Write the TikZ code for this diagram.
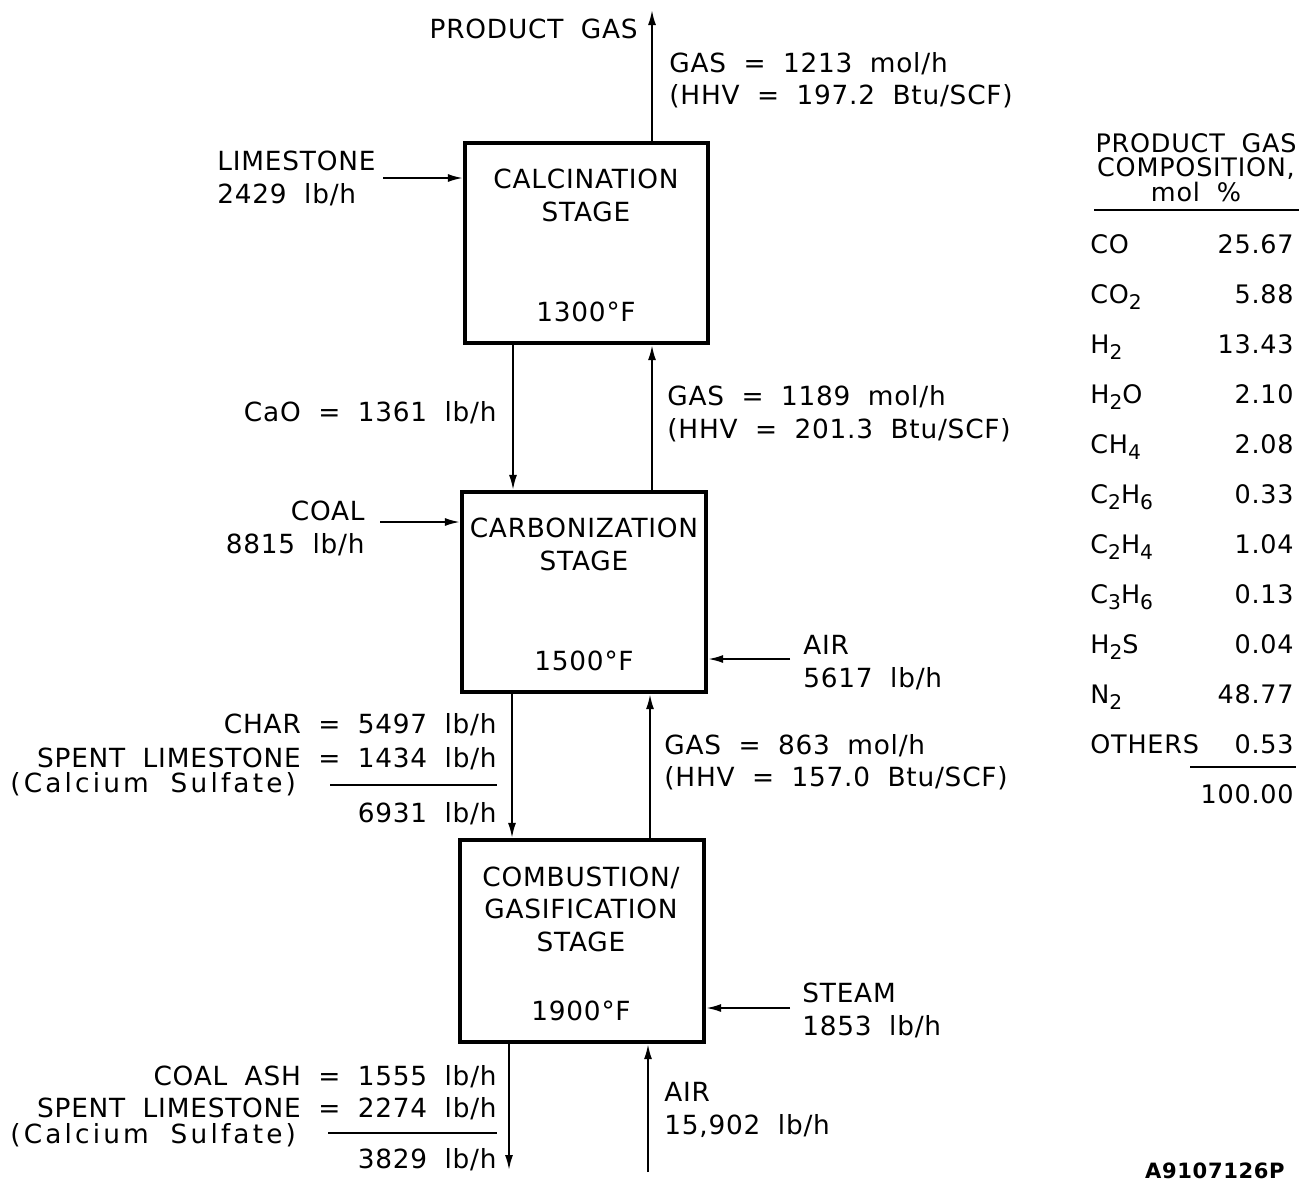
\documentclass[tikz,border=0pt]{standalone}
\usepackage{fontspec}
\setmainfont{DejaVu Sans}[LetterSpace=3, WordSpace=1.9]
\usetikzlibrary{arrows.meta}
\newcommand{\chsub}[1]{\raisebox{-0.45ex}{\fontsize{11.5}{12}\selectfont #1}}
\begin{document}
\begin{tikzpicture}[x=0.02cm,y=-0.02cm,
  txt/.style={inner sep=0pt, font=\fontsize{15}{18}\selectfont},
  tbl/.style={inner sep=0pt, font=\fontsize{14.5}{17}\selectfont},
  stagebox/.style={draw, line width=2.4pt, minimum width=4.88cm, minimum height=4cm, inner sep=0pt},
  arr/.style={line width=1.1pt, -{Latex[length=3mm,width=1.6mm]}},
  rulel/.style={line width=1.1pt}]
\useasboundingbox (0,0) rectangle (1307,1187);

% stage boxes
\node[stagebox, minimum width=4.86cm] (calc) at (586.5,243) {};
\node[stagebox] (carb) at (584,592) {};
\node[stagebox, minimum height=4.04cm] (comb) at (582,941) {};

% box texts
\node[txt, anchor=base] (calcA) at (586,188) {CALCINATION};
\node[txt, anchor=base] (calcB) at (586,221) {STAGE};
\node[txt, anchor=base] (calcT) at (586,321) {1300°F};
\node[txt, anchor=base] (carbA) at (584,537) {CARBONIZATION};
\node[txt, anchor=base] (carbB) at (584,570) {STAGE};
\node[txt, anchor=base] (carbT) at (584,670) {1500°F};
\node[txt, anchor=base] (combA) at (581,886) {COMBUSTION/};
\node[txt, anchor=base] (combB) at (581,918) {GASIFICATION};
\node[txt, anchor=base] (combC) at (581,951) {STAGE};
\node[txt, anchor=base] (combT) at (581,1020) {1900°F};

% coordinates for free ends / columns
\coordinate (pg) at (652,10);
\coordinate (ls) at (383,178);
\coordinate (xdown1) at (513,0);
\coordinate (xup1) at (652,0);
\coordinate (coal) at (380,522);
\coordinate (air1) at (790,659);
\coordinate (xdown2) at (512,0);
\coordinate (xup2) at (650,0);
\coordinate (steam) at (790,1008);
\coordinate (ashend) at (509,1170);
\coordinate (air2) at (648,1172);

% connectors
\draw[arr] (calc.north -| pg) -- (pg);
\draw[arr] (ls) -- (ls -| calc.west);
\draw[arr] (calc.south -| xdown1) -- (carb.north -| xdown1);
\draw[arr] (carb.north -| xup1) -- (calc.south -| xup1);
\draw[arr] (coal) -- (coal -| carb.west);
\draw[arr] (air1) -- (air1 -| carb.east);
\draw[arr] (carb.south -| xdown2) -- (comb.north -| xdown2);
\draw[arr] (comb.north -| xup2) -- (carb.south -| xup2);
\draw[arr] (steam) -- (steam -| comb.east);
\draw[arr] (comb.south -| ashend) -- (ashend);
\draw[arr] (air2) -- (air2 |- comb.south);

% top labels
\node[txt, anchor=base east] (pgl) at (638,38) {PRODUCT GAS};
\node[txt, anchor=base west] (g1a) at (669,72) {GAS = 1213 mol/h};
\node[txt, anchor=base west] (g1b) at (669,104) {(HHV = 197.2 Btu/SCF)};
\node[txt, anchor=base west] (lsa) at (217,170) {LIMESTONE};
\node[txt, anchor=base west] (lsb) at (217,203) {2429 lb/h};

% between calcination and carbonization
\node[txt, anchor=base east] (cao) at (497,421) {CaO = 1361 lb/h};
\node[txt, anchor=base west] (g2a) at (667,405) {GAS = 1189 mol/h};
\node[txt, anchor=base west] (g2b) at (667,438) {(HHV = 201.3 Btu/SCF)};
\node[txt, anchor=base east] (coala) at (365,520) {COAL};
\node[txt, anchor=base east] (coalb) at (365,553) {8815 lb/h};
\node[txt, anchor=base west] (air1a) at (803,654) {AIR};
\node[txt, anchor=base west] (air1b) at (803,687) {5617 lb/h};

% between carbonization and combustion
\node[txt, anchor=base east] (ch1) at (497,733) {CHAR = 5497 lb/h};
\node[txt, anchor=base east] (ch2) at (497,767) {SPENT LIMESTONE = 1434 lb/h};
\node[txt, anchor=base west] (ch3) at (10,792) {\addfontfeature{LetterSpace=12}(Calcium Sulfate)};
\coordinate (s1a) at (330,785);
\coordinate (s1b) at (497,785);
\draw[rulel] (s1a) -- (s1b);
\node[txt, anchor=base east] (ch4) at (497,822) {6931 lb/h};
\node[txt, anchor=base west] (g3a) at (664,754) {GAS = 863 mol/h};
\node[txt, anchor=base west] (g3b) at (664,786) {(HHV = 157.0 Btu/SCF)};
\node[txt, anchor=base west] (sta) at (802,1002) {STEAM};
\node[txt, anchor=base west] (stb) at (802,1035) {1853 lb/h};

% bottom
\node[txt, anchor=base east] (as1) at (497,1085) {COAL ASH = 1555 lb/h};
\node[txt, anchor=base east] (as2) at (497,1117) {SPENT LIMESTONE = 2274 lb/h};
\node[txt, anchor=base west] (as3) at (10,1143) {\addfontfeature{LetterSpace=12}(Calcium Sulfate)};
\coordinate (s2a) at (328,1133);
\coordinate (s2b) at (497,1133);
\draw[rulel] (s2a) -- (s2b);
\node[txt, anchor=base east] (as4) at (497,1168) {3829 lb/h};
\node[txt, anchor=base west] (air2a) at (664,1101) {AIR};
\node[txt, anchor=base west] (air2b) at (664,1134) {15,902 lb/h};

% composition table
\node[tbl, anchor=base] (th1) at (1196,152) {PRODUCT GAS};
\node[tbl, anchor=base] (th2) at (1196,176) {COMPOSITION,};
\node[tbl, anchor=base] (th3) at (1196,201) {mol \%};
\coordinate (t1a) at (1094,210);
\coordinate (t1b) at (1299,210);
\draw[rulel] (t1a) -- (t1b);
\foreach \nm/\val/\yy [count=\i] in {CO/25.67/253, CO\chsub{2}/5.88/303, H\chsub{2}/13.43/353,
  H\chsub{2}O/2.10/403, CH\chsub{4}/2.08/453, C\chsub{2}H\chsub{6}/0.33/503,
  C\chsub{2}H\chsub{4}/1.04/553, C\chsub{3}H\chsub{6}/0.13/603, H\chsub{2}S/0.04/653,
  N\chsub{2}/48.77/703, OTHERS/0.53/753}{
  \node[tbl, anchor=base west] (tn\i) at (1090,\yy) {\nm};
  \node[tbl, anchor=base east] (tv\i) at (1294,\yy) {\val};
}
\coordinate (t2a) at (1190,767);
\coordinate (t2b) at (1296,767);
\draw[rulel] (t2a) -- (t2b);
\node[tbl, anchor=base east] (tot) at (1294,803) {100.00};

\node[inner sep=0pt, anchor=base east, font=\fontsize{12}{14}\selectfont\bfseries] (fid) at (1285,1178) {A9107126P};
\end{tikzpicture}
\end{document}
